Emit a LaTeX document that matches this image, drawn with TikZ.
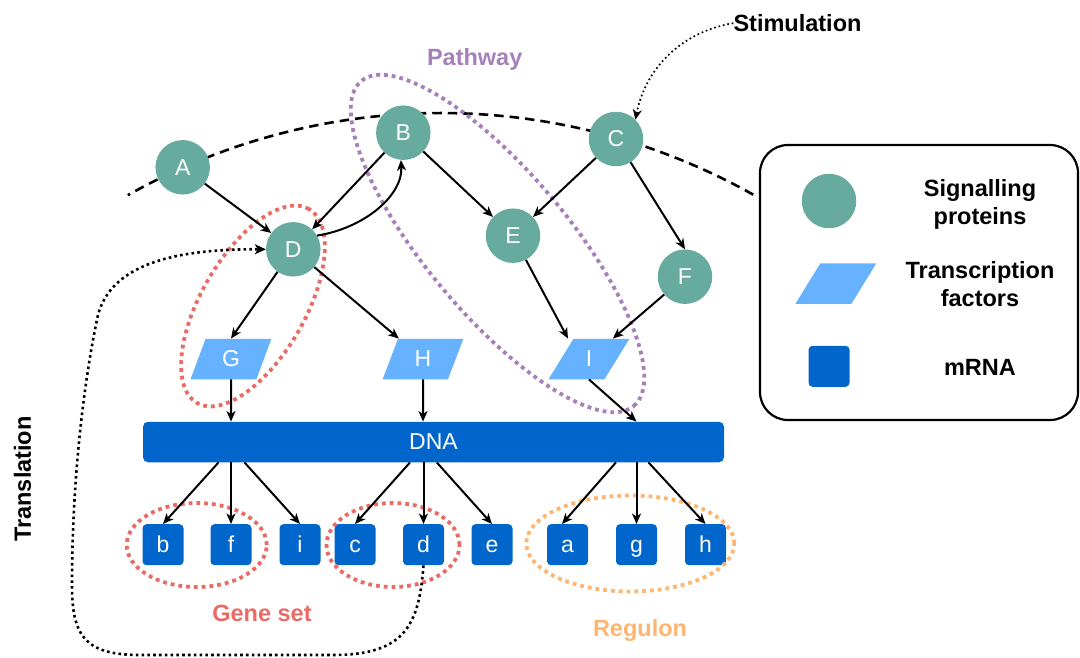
\documentclass[tikz,border=0pt]{standalone}
\usepackage{fontspec}
\setmainfont{Liberation Sans}
\usetikzlibrary{arrows.meta,shapes.geometric,calc,backgrounds}

\definecolor{sigteal}{HTML}{67AB9F}
\definecolor{tfblue}{HTML}{66B2FF}
\definecolor{rnablue}{HTML}{0066CC}
\definecolor{generd}{HTML}{EA6B66}
\definecolor{pathpurple}{HTML}{A680B8}
\definecolor{regorange}{HTML}{FFB570}

\begin{document}
\begin{tikzpicture}[x=1pt,y=-1pt,
  nodefont/.style={font=\fontsize{23}{27}\selectfont},
  sig/.style={circle, fill=sigteal, minimum size=54.5pt, inner sep=0pt, text=white, nodefont},
  tf/.style={trapezium, trapezium left angle=72, trapezium right angle=108,
    trapezium stretches=true, fill=tfblue, minimum width=81pt, minimum height=40.5pt,
    inner sep=0pt, text=white, nodefont},
  mrna/.style={rectangle, rounded corners=4pt, fill=rnablue, minimum size=41pt,
    inner sep=0pt, text=white, nodefont, text height=16.5pt, text depth=0pt},
  dnabar/.style={rectangle, rounded corners=5pt, fill=rnablue, minimum width=581pt,
    minimum height=40.5pt, inner sep=0pt, text=white, nodefont},
  lbl/.style={font=\bfseries\fontsize{23.5}{28}\selectfont, inner sep=0pt, align=center},
  edge/.style={line width=2pt, -{Stealth[length=10.5pt, width=9pt, inset=3pt]}},
  setring/.style={ellipse, draw, line width=3.8pt, dash pattern=on 3.8pt off 4pt, inner sep=0pt},
  membrane/.style={line width=2.6pt, dash pattern=on 9.5pt off 6pt},
  translink/.style={line width=2.6pt, dash pattern=on 2.6pt off 3.2pt,
    -{Stealth[length=11pt, width=10pt, inset=3pt]}},
  stimlink/.style={line width=1.7pt, dash pattern=on 1.7pt off 2.8pt,
    -{Stealth[length=10pt, width=9pt, inset=3pt]}},
]
\useasboundingbox (0,0) rectangle (1080,657);

% signalling proteins
\node[sig] (pA) at (182.7,167.3) {A};
\node[sig] (pB) at (403.3,132.7) {B};
\node[sig] (pC) at (616,139) {C};
\node[sig] (pD) at (293.3,249.3) {D};
\node[sig] (pE) at (513,235.7) {E};
\node[sig] (pF) at (685,276.7) {F};

% transcription factors
\node[tf] (tfG) at (231,359) {G};
\node[tf] (tfH) at (423,359) {H};
\node[tf] (tfI) at (589,359) {I};

% DNA
\node[dnabar] (dna) at (433.5,442) {DNA};

% mRNA
\node[mrna] (mb) at (163,544.7) {b};
\node[mrna] (mf) at (231,544.7) {f};
\node[mrna] (mi) at (300,544.7) {i};
\node[mrna] (mc) at (355,544.7) {c};
\node[mrna] (md) at (423.5,544.7) {d};
\node[mrna] (me) at (492,544.7) {e};
\node[mrna] (ma) at (567.5,544.7) {a};
\node[mrna] (mg) at (636.5,544.7) {g};
\node[mrna] (mh) at (705.5,544.7) {h};

% cell membrane
\begin{scope}[on background layer]
  \draw[membrane] plot[domain=60.7:119.4, samples=80] ({441+638*cos(\x)}, {751-638*sin(\x)});
\end{scope}

% groupings
\node[setring, draw=generd, minimum width=224pt, minimum height=104pt, rotate=60] (ringDG) at (253,306) {};
\node[setring, draw=pathpurple, minimum width=424pt, minimum height=142pt, rotate=-50] (ringPath) at (497.5,243.5) {};
\node[setring, draw=generd, minimum width=140pt, minimum height=84pt] (ringBF) at (196.7,545) {};
\node[setring, draw=generd, minimum width=133pt, minimum height=84pt] (ringCD) at (393,545) {};
\node[setring, draw=regorange, minimum width=208pt, minimum height=96pt] (ringReg) at (630.3,543.5) {};

% labels
\node[lbl, anchor=base, text=pathpurple] (tPath) at (474.7,65.4) {Pathway};
\node[lbl, anchor=base, text=generd] (tGene) at (262,621.4) {Gene set};
\node[lbl, anchor=base, text=regorange] (tReg) at (640,636) {Regulon};
\node[lbl] (stim) at (797.5,23.2) {Stimulation};
\node[lbl, rotate=90] (tTrans) at (22.5,479) {Translation};

% legend
\node[draw, line width=2.2pt, rounded corners=28pt, minimum width=318pt, minimum height=275pt] (legend) at (919,282.5) {};
\node[sig] (keySig) at (829,201) {};
\node[tf] (keyTF) at (835.8,283.7) {\phantom{I}};
\node[mrna] (keyRNA) at (829,366.3) {};
\node[lbl] (keySigT) at (980,204.5) {Signalling\\proteins};
\node[lbl] (keyTFT) at (980,284.5) {Transcription\\factors};
\node[lbl] (keyRNAT) at (980,367.3) {mRNA};

% signalling cascade
\draw[edge] (pA) -- (pD);
\draw[edge] (pB) -- (pD);
\draw[edge] (pD.30) .. controls (365,228) and (403,195) .. (pB.-95);
\draw[edge] (pB) -- (pE);
\draw[edge] (pC) -- (pE);
\draw[edge] (pC) -- (pF.north);
\draw[edge] (pD) -- (tfG.north);
\draw[edge] (pD) -- (tfH);
\draw[edge] (pE) -- ($(tfI.north)+(-21,0)$);
\draw[edge] (pF) -- (tfI);

% transcription factors bind DNA
\draw[edge] (tfG) -- (tfG |- dna.north);
\draw[edge] (tfH) -- (tfH |- dna.north);
\draw[edge] (tfI.south) -- (mg |- dna.north);

% transcription into mRNA
\draw[edge] ($(mf |- dna.south)+(-12.5,0)$) -- (mb.north);
\draw[edge] (mf |- dna.south) -- (mf.north);
\draw[edge] ($(mf |- dna.south)+(13.5,0)$) -- (mi.north);
\draw[edge] ($(md |- dna.south)+(-13.5,0)$) -- (mc.north);
\draw[edge] (md |- dna.south) -- (md.north);
\draw[edge] ($(md |- dna.south)+(13.3,0)$) -- (me.north);
\draw[edge] ($(mg |- dna.south)+(-20.6,0)$) -- ($(ma.north)+(-5.5,0)$);
\draw[edge] (mg |- dna.south) -- (mg.north);
\draw[edge] ($(mg |- dna.south)+(12,0)$) -- (mh.north);

% translation feedback and external stimulus
\draw[translink] (md.south) .. controls (419,625) and (405,655) .. (333,655)
  -- (140,655) .. controls (84,655) and (72,635) .. (72,585)
  .. controls (72,470) and (86,370) .. (98,315)
  .. controls (112,262) and (180,249) .. (pD.west);
\draw[stimlink] (stim.west) .. controls (680,32) and (645,70) .. (pC.45);
\end{tikzpicture}
\end{document}
